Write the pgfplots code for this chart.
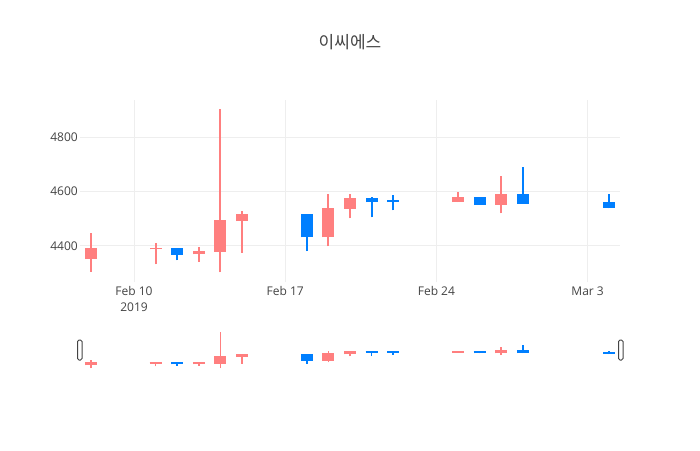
\documentclass[border=0pt]{standalone}
\usepackage{fontspec}
\setmainfont{Open Sans}
\newfontfamily\cjk{Noto Sans CJK KR}
\usepackage{pgfplots}
\usepackage{pgfplotstable}
\pgfplotsset{compat=1.18}
\definecolor{upc}{HTML}{FF7F7F}
\definecolor{dnc}{HTML}{007FFF}
\definecolor{txt}{HTML}{444444}
\definecolor{grd}{HTML}{EEEEEE}

% day offsets from Feb 10 2019; lo hi = wick, bl bt = body
\pgfplotstableread{
x   lo    hi    bl    bt
-2  4304  4448  4351  4393
1   4331  4412  4387  4392
3   4341  4396  4368  4382
4   4302  4905  4377  4495
5   4375  4527  4491  4516
9   4399  4592  4431  4541
10  4501  4592  4536  4575
15  4561  4598  4561  4580
17  4520  4658  4551  4591
}\up
\pgfplotstableread{
x   lo    hi    bl    bt
2   4346  4392  4367  4392
8   4380  4516  4431  4516
11  4505  4580  4561  4575
12  4531  4586  4561  4569
16  4551  4580  4551  4580
18  4555  4692  4555  4591
22  4538  4592  4541  4562
}\down

\pgfplotsset{
  wick/.style 2 args={draw=none, mark=none, forget plot,
    error bars/.cd, y dir=plus, y explicit, error mark=none,
    error bar style={draw=#1, line width=#2, line cap=butt}},
  sbody/.style={draw=none, mark=none, forget plot,
    error bars/.cd, y dir=plus, y explicit, error mark=-,
    error bar style={draw=#1, line width=12pt, line cap=butt},
    error mark options={draw=#1, line width=2pt, mark size=6pt, line cap=butt, rotate=90}},
}

\begin{document}
\begin{tikzpicture}[x=1pt,y=1pt]
\fill[white] (0,0) rectangle (700,450);
\node[font=\cjk\fontsize{17}{20}\selectfont, text=txt] at (350,407.5) {이씨에스};

\begin{axis}[
  at={(80pt,168pt)}, anchor=south west,
  scale only axis, width=540pt, height=182pt,
  xmin=-2.5, xmax=22.5, ymin=4266, ymax=4939,
  xtick={0,7,14,21},
  xticklabels={{Feb 10\\2019},{Feb 17},{Feb 24},{Mar 3}},
  ytick={4400,4600,4800},
  axis line style={draw=none},
  major tick length=0pt,
  grid=major, grid style={draw=grd, line width=1pt},
  tick label style={font=\fontsize{12}{15.7}\selectfont, text=txt},
  xticklabel style={align=center, anchor=north, yshift=-1pt},
  yticklabel style={anchor=east, inner sep=0pt, xshift=-2pt},
  /pgf/number format/assume math mode=true,
  /pgf/number format/1000 sep={},
  clip=true,
]
\addplot[wick={upc}{2pt}] table[x=x, y=lo, y error expr=\thisrow{hi}-\thisrow{lo}] {\up};
\addplot[wick={upc}{12pt}] table[x=x, y=bl, y error expr=\thisrow{bt}-\thisrow{bl}] {\up};
\addplot[wick={dnc}{2pt}] table[x=x, y=lo, y error expr=\thisrow{hi}-\thisrow{lo}] {\down};
\addplot[wick={dnc}{12pt}] table[x=x, y=bl, y error expr=\thisrow{bt}-\thisrow{bl}] {\down};
\end{axis}

\begin{axis}[
  at={(80pt,80pt)}, anchor=south west,
  scale only axis, width=540pt, height=39.5pt,
  xmin=-2.5, xmax=22.5, ymin=4272, ymax=4935,
  hide axis, clip=true,
]
\addplot[wick={upc}{1.6pt}] table[x=x, y=lo, y error expr=\thisrow{hi}-\thisrow{lo}] {\up};
\addplot[sbody=upc] table[x=x, y=bl, y error expr=\thisrow{bt}-\thisrow{bl}] {\up};
\addplot[wick={dnc}{1.6pt}] table[x=x, y=lo, y error expr=\thisrow{hi}-\thisrow{lo}] {\down};
\addplot[sbody=dnc] table[x=x, y=bl, y error expr=\thisrow{bt}-\thisrow{bl}] {\down};
\end{axis}

\draw[txt, line width=1pt, fill=white, rounded corners=1.5pt] (77.5,90) rectangle (82,110);
\draw[txt, line width=1pt, fill=white, rounded corners=1.5pt] (618.5,90) rectangle (623,110);
\end{tikzpicture}
\end{document}
